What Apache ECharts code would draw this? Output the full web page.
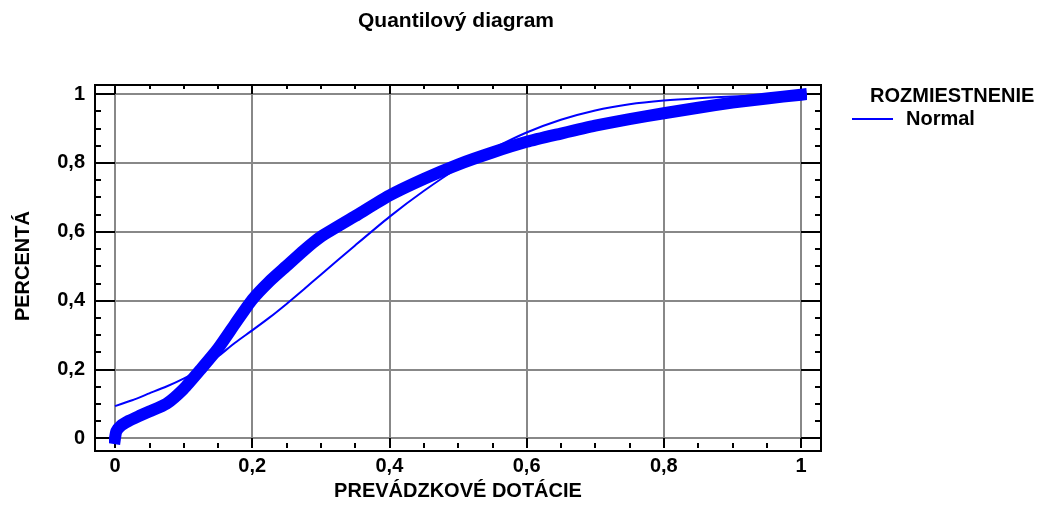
<!DOCTYPE html>
<html>
<head>
<meta charset="utf-8">
<script src="https://cdn.jsdelivr.net/npm/echarts@6/dist/echarts.min.js"></script>
<style>
  html, body { margin: 0; padding: 0; background: #ffffff; }
  #chart { width: 1049px; height: 506px; }
</style>
</head>
<body>
<div id="chart"></div>
<script>
// ---- data ----
const titleText = 'Quantilový diagram';
const xAxisName = 'PREVÁDZKOVÉ DOTÁCIE';
const yAxisName = 'PERCENTÁ';
const legendTitle = 'ROZMIESTNENIE';
const fitName = 'Normal';

const xTickLabels = ['0', '0,2', '0,4', '0,6', '0,8', '1'];
const yTickLabels = ['0', '0,2', '0,4', '0,6', '0,8', '1'];

// empirical quantiles (thick band)
const empX = [0, 0.002, 0.008, 0.02, 0.035, 0.05, 0.075, 0.1, 0.125, 0.15, 0.175, 0.2, 0.225, 0.25, 0.275, 0.3, 0.35, 0.4, 0.45, 0.5, 0.55, 0.6, 0.65, 0.7, 0.75, 0.8, 0.85, 0.9, 0.95, 1.0];
const empY = [0, 0.02, 0.035, 0.05, 0.064, 0.077, 0.1, 0.143, 0.2, 0.26, 0.332, 0.402, 0.455, 0.5, 0.545, 0.585, 0.645, 0.705, 0.753, 0.795, 0.83, 0.861, 0.885, 0.908, 0.927, 0.944, 0.96, 0.975, 0.987, 0.998];

// fitted Normal distribution (thin line)
const fitX = [0, 0.025, 0.05, 0.075, 0.1, 0.125, 0.15, 0.175, 0.2, 0.225, 0.25, 0.275, 0.3, 0.35, 0.4, 0.45, 0.5, 0.55, 0.6, 0.65, 0.7, 0.75, 0.8, 0.85, 0.9, 0.95, 1.0];
const fitY = [0.093, 0.11, 0.13, 0.15, 0.173, 0.2, 0.237, 0.277, 0.313, 0.35, 0.39, 0.432, 0.475, 0.56, 0.643, 0.718, 0.785, 0.84, 0.888, 0.925, 0.952, 0.97, 0.981, 0.988, 0.993, 0.997, 0.999];

const FONT = 'Liberation Sans';
const BLUE = '#0000ff';

const empData = empX.map((x, i) => [x, empY[i]]);
const fitData = fitX.map((x, i) => [x, fitY[i]]);

const chart = echarts.init(document.getElementById('chart'), null, { renderer: 'canvas' });

const tickCommon = {
  min: 0, max: 1, interval: 0.2,
  axisLine: { show: false, onZero: false },
};

chart.setOption({
  animation: false,
  backgroundColor: '#ffffff',
  title: {
    text: titleText,
    left: 358, top: 11, padding: 0,
    textStyle: { fontFamily: FONT, fontWeight: 'bold', fontSize: 21, color: '#000' }
  },
  legend: {
    data: [{ name: fitName }],
    left: 851, top: 109, padding: 0,
    itemWidth: 41, itemHeight: 2,
    textStyle: { fontFamily: FONT, fontWeight: 'bold', fontSize: 20, color: '#000', padding: [0, 0, 0, 8] }
  },
  graphic: [{
    type: 'text', left: 870, top: 86,
    style: { text: legendTitle, font: 'bold 20px "Liberation Sans"', fill: '#000' }
  }],
  grid: [
    { left: 95, right: 228, top: 85, bottom: 55, show: true, borderColor: '#000', borderWidth: 2, backgroundColor: 'transparent' },
    { left: 115, right: 248, top: 94, bottom: 64 }
  ],
  xAxis: [
    { gridIndex: 0, type: 'value', show: false, min: 0, max: 1 },
    Object.assign({}, tickCommon, {
      gridIndex: 1, type: 'value', position: 'bottom', offset: 10,
      axisTick: { show: true, inside: true, length: 10, lineStyle: { color: '#000', width: 2 } },
      minorTick: { show: true, splitNumber: 4, length: 5, lineStyle: { color: '#000', width: 2 } },
      splitLine: { show: true, lineStyle: { color: '#888888', width: 2 } },
      axisLabel: {
        margin: 8, fontFamily: FONT, fontWeight: 'bold', fontSize: 20, color: '#000',
        formatter: v => xTickLabels[Math.round(v / 0.2)]
      },
      name: xAxisName, nameLocation: 'middle', nameGap: 30,
      nameTextStyle: { fontFamily: FONT, fontWeight: 'bold', fontSize: 20, color: '#000' }
    }),
    Object.assign({}, tickCommon, {
      gridIndex: 1, type: 'value', position: 'top', offset: 10,
      axisTick: { show: true, inside: true, length: 10, lineStyle: { color: '#000', width: 2 } },
      minorTick: { show: true, splitNumber: 4, length: 5, lineStyle: { color: '#000', width: 2 } },
      splitLine: { show: false },
      axisLabel: { show: false }
    })
  ],
  yAxis: [
    { gridIndex: 0, type: 'value', show: false, min: 0, max: 1 },
    Object.assign({}, tickCommon, {
      gridIndex: 1, type: 'value', position: 'left', offset: 20,
      axisTick: { show: true, inside: true, length: 20, lineStyle: { color: '#000', width: 2 } },
      minorTick: { show: true, splitNumber: 4, length: 6, lineStyle: { color: '#000', width: 2 } },
      splitLine: { show: true, lineStyle: { color: '#888888', width: 2 } },
      axisLabel: {
        margin: 10, fontFamily: FONT, fontWeight: 'bold', fontSize: 20, color: '#000',
        formatter: v => yTickLabels[Math.round(v / 0.2)]
      },
      name: yAxisName, nameLocation: 'middle', nameGap: 62,
      nameTextStyle: { fontFamily: FONT, fontWeight: 'bold', fontSize: 20, color: '#000' }
    }),
    Object.assign({}, tickCommon, {
      gridIndex: 1, type: 'value', position: 'right', offset: 20,
      axisTick: { show: true, inside: true, length: 20, lineStyle: { color: '#000', width: 2 } },
      minorTick: { show: true, splitNumber: 4, length: 6, lineStyle: { color: '#000', width: 2 } },
      splitLine: { show: false },
      axisLabel: { show: false }
    })
  ],
  series: [
    {
      name: 'Kvantily', type: 'line', xAxisIndex: 1, yAxisIndex: 1,
      data: empData, symbol: 'none', clip: false, z: 3,
      smooth: 0.2,
      lineStyle: { color: BLUE, width: 12, cap: 'square', join: 'round' },
      itemStyle: { color: BLUE }
    },
    {
      name: fitName, type: 'line', xAxisIndex: 1, yAxisIndex: 1,
      data: fitData, symbol: 'none', clip: false, z: 4,
      smooth: 0.2,
      lineStyle: { color: BLUE, width: 2 },
      itemStyle: { color: BLUE }
    }
  ]
});
</script>
</body>
</html>
